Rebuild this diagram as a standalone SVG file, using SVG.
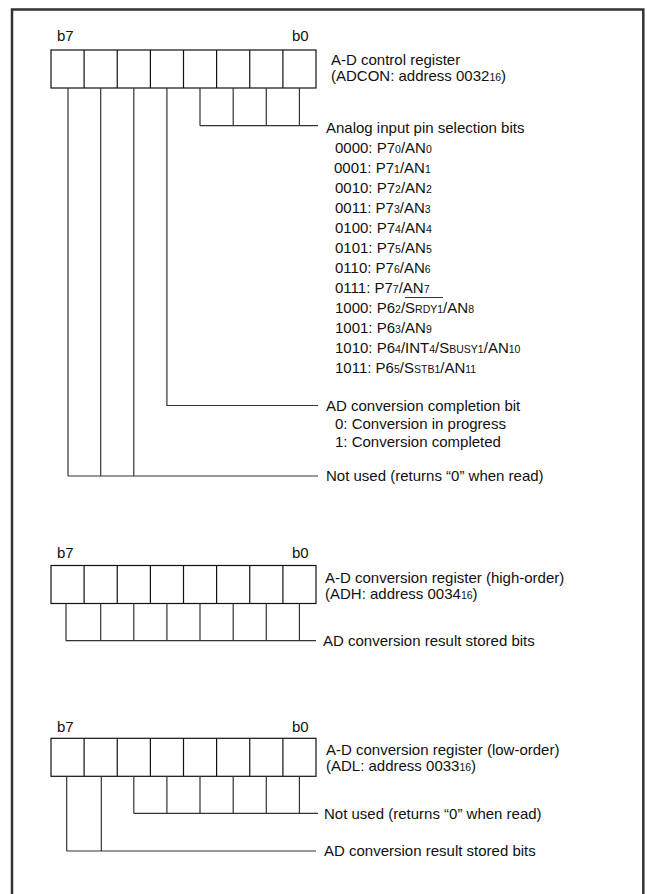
<svg xmlns="http://www.w3.org/2000/svg" width="647" height="894" viewBox="0 0 647 894">
<style>
text{font-family:"Liberation Sans",Arial,sans-serif;font-size:15px;fill:#111}
.s{font-size:10.5px}
.box{fill:#fff;stroke:#111;stroke-width:1.2}
.cell{stroke:#111;stroke-width:1.2}
.ln{fill:none;stroke:#333;stroke-width:1.2}
.frame{fill:none;stroke:#333;stroke-width:2.5}
</style>
<defs>
<g id="reg">
<rect class="box" x="51" y="0" width="265" height="38"/>
<path class="cell" d="M84.1 0V38M117.25 0V38M150.4 0V38M183.5 0V38M216.6 0V38M249.75 0V38M282.9 0V38"/>
</g>
</defs>
<path id="frame" class="frame" d="M12 896V9.5H643.3V896"/>

<g id="reg-adcon">
<use href="#reg" y="50"/>
<text x="57" y="41">b7</text>
<text x="292" y="41">b0</text>
<text x="331" y="64.5">A-D control register</text>
<text x="331" y="81">(ADCON: address 0032<tspan class="s">16</tspan>)</text>
</g>

<g id="reg-adh">
<use href="#reg" y="565.5"/>
<text x="57" y="558">b7</text>
<text x="292" y="558">b0</text>
<text x="325" y="582.5">A-D conversion register (high-order)</text>
<text x="325" y="598.5">(ADH: address 0034<tspan class="s">16</tspan>)</text>
</g>

<g id="reg-adl">
<use href="#reg" y="738.3"/>
<text x="57" y="731.5">b7</text>
<text x="292" y="731.5">b0</text>
<text x="326" y="754.5">A-D conversion register (low-order)</text>
<text x="326" y="770.5">(ADL: address 0033<tspan class="s">16</tspan>)</text>
</g>

<g id="connectors">
<path class="ln" d="M200 88V125.7M233.2 88V125.7M266.3 88V125.7M299.4 88V125.7M200 125.7H318"/>
<path class="ln" d="M166.9 88V405.5H318"/>
<path class="ln" d="M68 88V476M100.7 88V476M133.8 88V476M68 476H318"/>
<path class="ln" d="M66 603.5V640.7M100.7 603.5V640.7M133.8 603.5V640.7M166.9 603.5V640.7M200 603.5V640.7M233.2 603.5V640.7M266.3 603.5V640.7M299.4 603.5V640.7M66 640.7H316"/>
<path class="ln" d="M133.8 776.3V813.3M166.9 776.3V813.3M200 776.3V813.3M233.2 776.3V813.3M266.3 776.3V813.3M299.4 776.3V813.3M133.8 813.3H318"/>
<path class="ln" d="M66.7 776.3V851M101.3 776.3V851M66.7 851H316"/>
</g>

<g id="label-analog">
<text x="326" y="132.5">Analog input pin selection bits</text>
<text x="335" y="153.4">0000: P7<tspan class="s">0</tspan>/AN<tspan class="s">0</tspan></text>
<text x="334" y="173.4">0001: P7<tspan class="s">1</tspan>/AN<tspan class="s">1</tspan></text>
<text x="335" y="193.4">0010: P7<tspan class="s">2</tspan>/AN<tspan class="s">2</tspan></text>
<text x="335" y="213.4">0011: P7<tspan class="s">3</tspan>/AN<tspan class="s">3</tspan></text>
<text x="335" y="233.4">0100: P7<tspan class="s">4</tspan>/AN<tspan class="s">4</tspan></text>
<text x="335" y="253.4">0101: P7<tspan class="s">5</tspan>/AN<tspan class="s">5</tspan></text>
<text x="335" y="273.4">0110: P7<tspan class="s">6</tspan>/AN<tspan class="s">6</tspan></text>
<text x="335" y="293.4">0111: P7<tspan class="s">7</tspan>/AN<tspan class="s">7</tspan></text>
<text x="335" y="313.4">1000: P6<tspan class="s">2</tspan>/S<tspan class="s">RDY1</tspan>/AN<tspan class="s">8</tspan></text>
<path class="ln" d="M405 297.5H443"/>
<text x="335" y="333.4">1001: P6<tspan class="s">3</tspan>/AN<tspan class="s">9</tspan></text>
<text x="335" y="353.4">1010: P6<tspan class="s">4</tspan>/INT<tspan class="s">4</tspan>/S<tspan class="s">BUSY1</tspan>/AN<tspan class="s">10</tspan></text>
<text x="335" y="373.4">1011: P6<tspan class="s">5</tspan>/S<tspan class="s">STB1</tspan>/AN<tspan class="s">11</tspan></text>
</g>

<g id="label-completion">
<text x="326" y="410.5">AD conversion completion bit</text>
<text x="335" y="429">0: Conversion in progress</text>
<text x="335" y="446.5">1: Conversion completed</text>
</g>

<g id="label-notused1">
<text x="326" y="481">Not used (returns “0” when read)</text>
</g>
<g id="label-adh-result">
<text x="323" y="646">AD conversion result stored bits</text>
</g>
<g id="label-adl-notused">
<text x="324" y="818.7">Not used (returns “0” when read)</text>
</g>
<g id="label-adl-result">
<text x="324" y="856">AD conversion result stored bits</text>
</g>
</svg>
